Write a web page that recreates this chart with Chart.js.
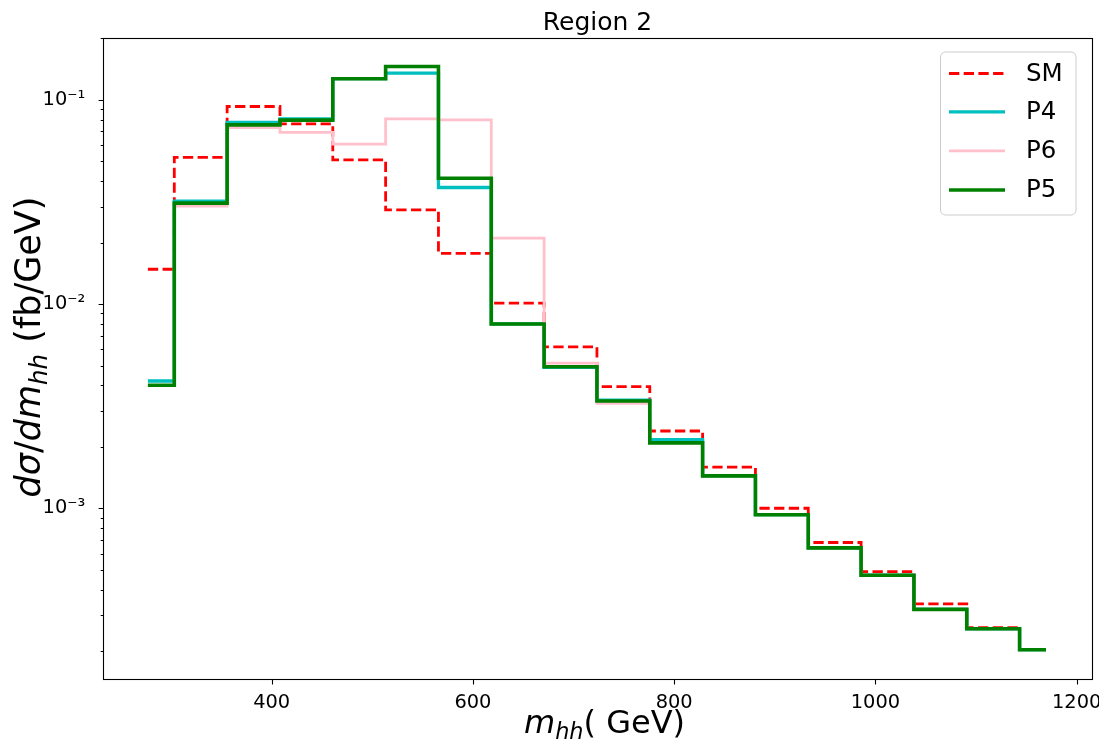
<!DOCTYPE html>
<html>
<head>
<meta charset="utf-8">
<script src="https://cdn.jsdelivr.net/npm/chart.js@4/dist/chart.umd.min.js"></script>
<style>
html,body{margin:0;padding:0;background:#fff;}
#wrap{position:relative;width:1099px;height:743px;}
canvas{position:absolute;left:0;top:0;}
</style>
</head>
<body>
<div id="wrap"><canvas id="c" width="1099" height="743"></canvas></div>
<script>
// ---- data ----
const mhh = [277, 329.5, 382, 434.5, 487, 539.5, 592, 644.5, 697, 749.5, 802, 854.5, 907, 959.5, 1012, 1064.5, 1117, 1169.5];
const smVals = [0.0148, 0.0523, 0.0927, 0.0762, 0.0508, 0.0289, 0.0177, 0.0101, 0.00617, 0.00394, 0.00239, 0.00159, 0.00100, 0.00068, 0.00049, 0.00034, 0.00026, 0.000203];
const p4Vals = [0.0042, 0.0319, 0.0774, 0.0807, 0.127, 0.135, 0.0372, 0.0080, 0.0049, 0.00338, 0.00217, 0.00144, 0.00093, 0.00064, 0.00047, 0.00032, 0.000257, 0.000203];
const p6Vals = [0.0040, 0.0302, 0.0731, 0.0692, 0.0607, 0.0807, 0.0798, 0.0210, 0.00514, 0.00326, 0.00209, 0.00144, 0.00093, 0.00064, 0.00047, 0.00032, 0.000257, 0.000203];
const p5Vals = [0.0040, 0.0312, 0.0754, 0.0795, 0.1267, 0.1456, 0.0413, 0.00798, 0.00493, 0.00335, 0.00209, 0.00144, 0.00093, 0.00064, 0.00047, 0.00032, 0.000257, 0.000203];
const seriesNames = ['SM', 'P4', 'P6', 'P5'];
const xTickVals = [400, 600, 800, 1000, 1200];
const yMajorTicks = [0.001, 0.01, 0.1];
const yMajorLabels = ['10\u207B\u00B3', '10\u207B\u00B2', '10\u207B\u00B9'];
const yMinorTicks = [0.0002, 0.0003, 0.0004, 0.0005, 0.0006, 0.0007, 0.0008, 0.0009,
  0.002, 0.003, 0.004, 0.005, 0.006, 0.007, 0.008, 0.009,
  0.02, 0.03, 0.04, 0.05, 0.06, 0.07, 0.08, 0.09, 0.2];
const titleText = 'Region 2';

const FONT = '"DejaVu Sans", "Liberation Sans", sans-serif';
const pts = vals => vals.map((v, i) => ({x: mhh[i], y: v}));

const styles = [
  {color: '#ff0000', width: 2.8, dash: [10.3, 4.4], order: 4},
  {color: '#00bfbf', width: 3.3, dash: [], order: 3},
  {color: '#ffc0cb', width: 2.8, dash: [], order: 2},
  {color: '#008000', width: 3.6, dash: [], order: 1}
];
const allVals = [smVals, p4Vals, p6Vals, p5Vals];

const datasets = allVals.map((vals, k) => ({
  label: seriesNames[k],
  data: pts(vals),
  borderColor: styles[k].color,
  backgroundColor: styles[k].color,
  borderWidth: styles[k].width,
  borderDash: styles[k].dash,
  borderCapStyle: 'butt',
  borderJoinStyle: 'miter',
  stepped: 'middle',
  fill: false,
  pointRadius: 0,
  pointHoverRadius: 0,
  order: styles[k].order
}));

function drawParts(ctx, parts, size, x, y) {
  let w = 0;
  const segs = parts.map(p => {
    const s = p.sub ? size * 0.7 : size;
    ctx.font = (p.it ? 'italic ' : '') + s.toFixed(2) + 'px ' + FONT;
    const mw = ctx.measureText(p.t).width;
    w += mw;
    return {p, s, mw};
  });
  let cx = x - w / 2;
  segs.forEach(sg => {
    ctx.font = (sg.p.it ? 'italic ' : '') + sg.s.toFixed(2) + 'px ' + FONT;
    ctx.fillText(sg.p.t, cx, y + (sg.p.sub ? size * 0.2 : 0));
    cx += sg.mw;
  });
}

const decor = {
  id: 'decor',
  afterDraw(chart) {
    const {ctx, chartArea: a, scales} = chart;
    const xs = scales.x, ys = scales.y;
    ctx.save();
    ctx.strokeStyle = '#000';
    ctx.lineWidth = 1.1;
    ctx.strokeRect(a.left + 0.5, a.top + 0.5, a.right - a.left, a.bottom - a.top);
    ctx.beginPath();
    xTickVals.forEach(v => {
      const px = Math.round(xs.getPixelForValue(v)) + 0.5;
      ctx.moveTo(px, a.bottom + 0.5); ctx.lineTo(px, a.bottom + 5.4);
    });
    yMajorTicks.forEach(v => {
      const py = Math.round(ys.getPixelForValue(v)) + 0.5;
      ctx.moveTo(a.left + 0.5, py); ctx.lineTo(a.left - 4.4, py);
    });
    yMinorTicks.forEach(v => {
      const py = Math.round(ys.getPixelForValue(v)) + 0.5;
      ctx.moveTo(a.left + 0.5, py); ctx.lineTo(a.left - 2.3, py);
    });
    ctx.stroke();

    ctx.fillStyle = '#000';
    ctx.textAlign = 'left';
    ctx.textBaseline = 'alphabetic';
    const cxm = (a.left + a.right) / 2;
    ctx.font = '25px ' + FONT;
    const tw = ctx.measureText(titleText).width;
    ctx.fillText(titleText, cxm - tw / 2, 30);

    drawParts(ctx, [
      {t: 'm', it: true}, {t: 'hh', it: true, sub: true}, {t: '( GeV)', it: false}
    ], 32, cxm + 7, 733);

    ctx.save();
    ctx.translate(40, 347);
    ctx.rotate(-Math.PI / 2);
    drawParts(ctx, [
      {t: 'd\u03C3', it: true}, {t: '/', it: false}, {t: 'dm', it: true},
      {t: 'hh', it: true, sub: true}, {t: ' (fb/GeV)', it: false}
    ], 35, 0, 0);
    ctx.restore();

    const bx = 940.5, by = 52, bw = 135.5, bh = 163;
    ctx.beginPath();
    ctx.roundRect(bx, by, bw, bh, 5);
    ctx.fillStyle = 'rgba(255,255,255,0.8)';
    ctx.fill();
    ctx.strokeStyle = '#cccccc';
    ctx.lineWidth = 1;
    ctx.stroke();
    const rows = [73.5, 111.8, 150.8, 190];
    ctx.font = '24.5px ' + FONT;
    ctx.textBaseline = 'middle';
    seriesNames.forEach((name, k) => {
      const st = styles[k];
      ctx.beginPath();
      ctx.strokeStyle = st.color;
      ctx.lineWidth = st.width;
      ctx.lineCap = 'butt';
      ctx.setLineDash(st.dash);
      ctx.moveTo(949, rows[k]); ctx.lineTo(1005, rows[k]);
      ctx.stroke();
      ctx.setLineDash([]);
      ctx.fillStyle = '#000';
      ctx.fillText(name, 1026, rows[k] + 1);
    });
    ctx.restore();
  }
};

new Chart(document.getElementById('c'), {
  type: 'line',
  data: {datasets},
  options: {
    responsive: false,
    animation: false,
    devicePixelRatio: 1,
    events: [],
    layout: {padding: {left: 0, right: 7, top: 38, bottom: 0}},
    plugins: {legend: {display: false}, tooltip: {enabled: false}, title: {display: false}},
    scales: {
      x: {
        type: 'linear',
        min: 232.4,
        max: 1215.2,
        bounds: 'data',
        border: {display: false},
        grid: {display: false},
        afterBuildTicks: s => { s.ticks = xTickVals.map(v => ({value: v})); },
        afterFit: s => { s.height = 64; s.paddingLeft = 0; s.paddingRight = 0; },
        ticks: {
          autoSkip: false,
          maxRotation: 0,
          padding: 4,
          color: '#000',
          font: {family: FONT, size: 19.4},
          callback: v => String(v)
        }
      },
      y: {
        type: 'logarithmic',
        min: 1.459e-4,
        max: 0.2007,
        bounds: 'data',
        border: {display: false},
        grid: {display: false},
        afterBuildTicks: s => {
          const all = yMajorTicks.concat(yMinorTicks).sort((a, b) => a - b);
          s.ticks = all.map(v => ({value: v}));
        },
        afterFit: s => { s.width = 103; s.paddingTop = 0; s.paddingBottom = 0; },
        ticks: {
          autoSkip: false,
          padding: 9.7,
          color: '#000',
          font: {family: FONT, size: 19.4},
          callback: v => {
            const i = yMajorTicks.findIndex(m => Math.abs(m - v) / m < 1e-6);
            return i >= 0 ? yMajorLabels[i] : '';
          }
        }
      }
    }
  },
  plugins: [decor]
});
</script>
</body>
</html>
